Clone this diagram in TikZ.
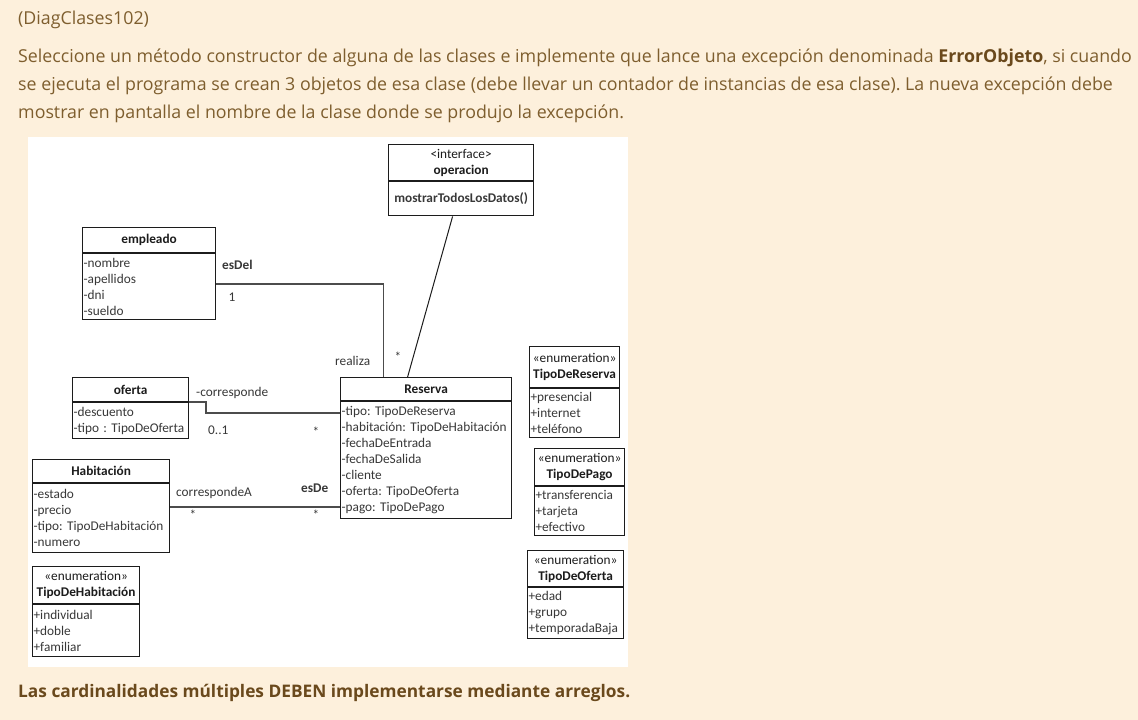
\documentclass[tikz,border=0pt]{standalone}
\usepackage{fontspec}
\setmainfont{Open Sans}
\newfontfamily\umlfont{Carlito}
\usetikzlibrary{positioning}
\definecolor{Paper}{HTML}{FDF0DC}
\definecolor{Prose}{HTML}{7E5E2E}
\definecolor{ProseBold}{HTML}{6A491C}
\definecolor{Ink}{HTML}{1C1C1C}
\definecolor{Wire}{HTML}{4C4C4C}
\definecolor{Attr}{HTML}{383838}
\frenchspacing
\tikzset{
  ch/.style={rectangle,draw=Ink,line width=1.2pt,fill=white,inner sep=0pt,anchor=north west,align=center,
             font=\umlfont\fontsize{13.3}{16}\selectfont,text=Ink},
  cb/.style={rectangle,draw=Ink,line width=1.2pt,fill=white,inner xsep=1pt,inner ysep=0pt,anchor=north west,align=left,
             font=\umlfont\fontsize{13.3}{16}\selectfont,text=Attr,text width=#1},
  wire/.style={draw=Wire,line width=1.5pt},
  thin/.style={draw=Ink,line width=1pt},
  rl/.style={font=\umlfont\fontsize{13.3}{15}\selectfont,text=Attr,inner sep=0pt},
  pr/.style={anchor=west,font=\fontsize{17.8}{22}\selectfont,text=Prose,inner sep=0pt},
}
\begin{document}
\begin{tikzpicture}[x=1pt,y=-1pt]
\useasboundingbox (0,0) rectangle (1138,720);
\fill[Paper] (0,0) rectangle (1138,720);
\fill[white] (28,137) rectangle (628,667);
% Prose above and below the diagram.
\node[pr] (title) at (18,20) {(DiagClases102)};
\node[pr] (l1) at (18,58) {Seleccione un método constructor de alguna de las clases e implemente que lance una excepción denominada \textbf{\color{ProseBold}ErrorObjeto}, si cuando};
\node[pr] (l2) at (18,86) {se ejecuta el programa se crean 3 objetos de esa clase (debe llevar un contador de instancias de esa clase). La nueva excepción debe};
\node[pr] (l3) at (18,114) {mostrar en pantalla el nombre de la clase donde se produjo la excepción.};
\node[pr,text=ProseBold,font=\fontsize{17.3}{22}\selectfont] (note) at (18,693) {\bfseries Las cardinalidades múltiples DEBEN implementarse mediante arreglos.};
% Classes: header node, then attribute block hung under it.
\node[ch,minimum width=145pt,minimum height=36pt] (op) at (388,144) {<interface>\\\textbf{operacion}};
\node[cb=143pt,minimum height=34pt,align=center] (opB) at (op.south west) {\textbf{mostrarTodosLosDatos()}};
\node[ch,minimum width=133pt,minimum height=25pt] (emp) at (82,227) {\textbf{empleado}};
\node[cb=131pt,minimum height=66pt] (empB) at (emp.south west) {-nombre\\-apellidos\\-dni\\-sueldo};
\node[ch,minimum width=116pt,minimum height=24pt] (ofe) at (72,377) {\textbf{oferta}};
\node[cb=114pt,minimum height=36pt] (ofeB) at (ofe.south west) {-descuento\\-tipo : TipoDeOferta};
\node[ch,minimum width=137pt,minimum height=23pt] (hab) at (32,459) {\textbf{Habitación}};
\node[cb=135pt,minimum height=69pt] (habB) at (hab.south west) {-estado\\-precio\\-tipo: TipoDeHabitación\\-numero};
\node[ch,minimum width=171pt,minimum height=23pt] (res) at (340,377) {\textbf{Reserva}};
\node[cb=169pt,minimum height=117pt] (resB) at (res.south west) {-tipo: TipoDeReserva\\-habitación: TipoDeHabitación\\-fechaDeEntrada\\-fechaDeSalida\\-cliente\\-oferta: TipoDeOferta\\-pago: TipoDePago};
% Enumerations.
\node[ch,minimum width=90pt,minimum height=41pt] (tres) at (529,346) {«enumeration»\\\textbf{TipoDeReserva}};
\node[cb=88pt,minimum height=49pt] (tresB) at (tres.south west) {+presencial\\+internet\\+teléfono};
\node[ch,minimum width=90pt,minimum height=37pt] (tpag) at (534,448) {«enumeration»\\\textbf{TipoDePago}};
\node[cb=88pt,minimum height=49pt] (tpagB) at (tpag.south west) {+transferencia\\+tarjeta\\+efectivo};
\node[ch,minimum width=96pt,minimum height=36pt] (tofe) at (527,550) {«enumeration»\\\textbf{TipoDeOferta}};
\node[cb=94pt,minimum height=51pt] (tofeB) at (tofe.south west) {+edad\\+grupo\\+temporadaBaja};
\node[ch,minimum width=107pt,minimum height=37pt] (thab) at (32,566) {«enumeration»\\\textbf{TipoDeHabitación}};
\node[cb=105pt,minimum height=52pt] (thabB) at (thab.south west) {+individual\\+doble\\+familiar};
% Associations.
\draw[wire] ([yshift=3pt]empB.east) -| ([xshift=-42.5pt]res.north);
\draw[thin] ([xshift=-8.5pt]opB.south) -- ([xshift=-18.5pt]res.north);
\draw[wire] (ofe.south east) -- ++(17,0) |- ([yshift=47.5pt]resB.west);
\draw[wire] ([yshift=11.5pt]habB.east) -- ([yshift=-46.5pt]resB.west);
% Role names and multiplicities.
\node[rl,anchor=west] (esdel) at (222,265) {\textbf{esDel}};
\node[rl] (m1) at (232,297) {1};
\node[rl,anchor=west] (realiza) at (335,361) {realiza};
\node[rl] (mr) at (398,357) {*};
\node[rl,anchor=west] (corr) at (196,393) {-corresponde};
\node[rl,anchor=west] (m01) at (208,430) {0..1};
\node[rl] (mo) at (316,432) {*};
\node[rl,anchor=west] (corrA) at (176,493) {correspondeA};
\node[rl,anchor=west] (esde) at (301,488) {\textbf{esDe}};
\node[rl] (mh) at (193,515) {*};
\node[rl] (mre) at (316,515) {*};
\end{tikzpicture}
\end{document}
